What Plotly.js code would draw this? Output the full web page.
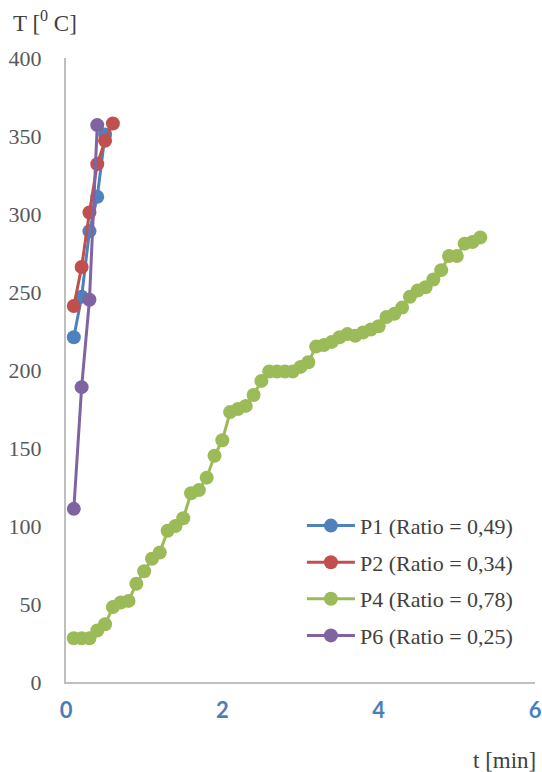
<!DOCTYPE html>
<html>
<head>
<meta charset="utf-8">
<script src="https://cdn.plot.ly/plotly-3.0.1.min.js"></script>
<style>html,body{margin:0;padding:0;background:#fff;}#chart{width:542px;height:772px;}</style>
</head>
<body>
<div id="chart"></div>
<script>
// Series data (t in minutes, T in °C)
const p1T = [0.1, 0.2, 0.3, 0.4, 0.5];
const p1Y = [221, 247, 289, 311, 351];

const p2T = [0.1, 0.2, 0.3, 0.4, 0.5, 0.6];
const p2Y = [241, 266, 301, 332, 347, 358];

const p4T = [0.1, 0.2, 0.3, 0.4, 0.5, 0.6, 0.7, 0.8, 0.9, 1.0,
             1.1, 1.2, 1.3, 1.4, 1.5, 1.6, 1.7, 1.8, 1.9, 2.0,
             2.1, 2.2, 2.3, 2.4, 2.5, 2.6, 2.7, 2.8, 2.9, 3.0,
             3.1, 3.2, 3.3, 3.4, 3.5, 3.6, 3.7, 3.8, 3.9, 4.0,
             4.1, 4.2, 4.3, 4.4, 4.5, 4.6, 4.7, 4.8, 4.9, 5.0,
             5.1, 5.2, 5.3];
const p4Y = [28, 28, 28, 33, 37, 48, 51, 52, 63, 71,
             79, 83, 97, 100, 105, 121, 123, 131, 145, 155,
             173, 175, 177, 184, 193, 199, 199, 199, 199, 202,
             205, 215, 216, 218, 221, 223, 222, 224, 226, 228,
             234, 236, 240, 247, 251, 253, 258, 264, 273, 273,
             281, 282, 285];

const p6T = [0.1, 0.2, 0.3, 0.4];
const p6Y = [111, 189, 245, 357];

const seriesNames = ["P1 (Ratio = 0,49)", "P2 (Ratio = 0,34)", "P4 (Ratio = 0,78)", "P6 (Ratio = 0,25)"];
const seriesColors = ["#4F81BD", "#C0504D", "#9BBB59", "#8064A2"];
const xTicks = [0, 2, 4, 6];
const yTicks = [0, 50, 100, 150, 200, 250, 300, 350, 400];

const xs = [p1T, p2T, p4T, p6T];
const ys = [p1Y, p2Y, p4Y, p6Y];

const traces = xs.map((x, i) => ({
  type: "scatter",
  mode: "lines+markers",
  x: x,
  y: ys[i],
  name: seriesNames[i],
  legendgroup: "g" + i,
  line: {color: seriesColors[i], width: 3},
  marker: {color: seriesColors[i], size: 14},
  cliponaxis: false
}));

const serif = "'Liberation Serif', 'Times New Roman', serif";

const layout = {
  width: 542,
  height: 772,
  margin: {l: 66, r: 7, t: 58, b: 90, pad: 0},
  paper_bgcolor: "#ffffff",
  plot_bgcolor: "#ffffff",
  showlegend: true,
  legend: {
    x: 0.503, y: 0.284, xanchor: "left", yanchor: "top",
    font: {family: serif, size: 22, color: "#404040"},
    tracegroupgap: 5,
    bgcolor: "rgba(0,0,0,0)",
    itemwidth: 48
  },
  xaxis: {
    range: [0, 6],
    tickvals: xTicks,
    ticktext: xTicks.map(String),
    showgrid: false,
    zeroline: false,
    showline: true,
    linecolor: "#bfbfbf",
    linewidth: 2,
    ticks: "",
    ticklabelstandoff: 8,
    tickfont: {family: "Lato, 'Liberation Sans', sans-serif", size: 22, color: "#4a7ebb", weight: "bold"}
  },
  yaxis: {
    range: [0, 400],
    tickvals: yTicks,
    ticktext: yTicks.map(String),
    showgrid: false,
    zeroline: false,
    showline: true,
    linecolor: "#bfbfbf",
    linewidth: 2,
    ticks: "",
    ticklabelstandoff: 18,
    tickfont: {family: serif, size: 22, color: "#595959"}
  },
  annotations: [
    {
      text: "T [<sup>0</sup> C]",
      xref: "paper", yref: "paper",
      x: -0.117, y: 1.058, xanchor: "left", yanchor: "middle",
      showarrow: false,
      font: {family: serif, size: 23, color: "#404040"}
    },
    {
      text: "t [min]",
      xref: "paper", yref: "paper",
      x: 1.006, y: -0.125, xanchor: "right", yanchor: "middle",
      showarrow: false,
      font: {family: serif, size: 23, color: "#404040"}
    }
  ]
};

Plotly.newPlot("chart", traces, layout, {displayModeBar: false, staticPlot: true});
</script>
</body>
</html>
